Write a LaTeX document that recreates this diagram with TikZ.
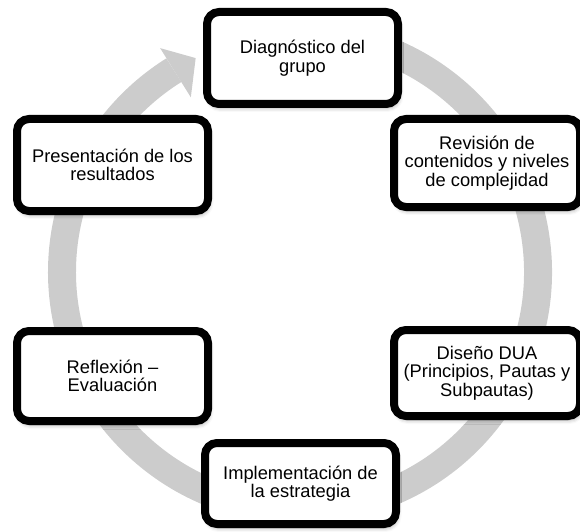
\documentclass[tikz,border=0pt]{standalone}
\usepackage{fontspec}
\setmainfont{Liberation Sans}
\usetikzlibrary{calc,shadows.blur}
\definecolor{ringgray}{RGB}{204,204,204}
\tikzset{
  stagebox/.style={draw=black, line width=8pt, fill=white, rounded corners=12pt,
    align=center, inner sep=2pt,
    font=\fontsize{18.3}{18.6}\selectfont,
    blur shadow={shadow xshift=1.5pt, shadow yshift=-4pt, shadow blur radius=4pt, shadow opacity=35}},
  ring/.style={line width=28pt, draw=ringgray, line cap=butt}
}
\begin{document}
\begin{tikzpicture}[x=1pt,y=1pt]
\useasboundingbox (0,0) rectangle (580,531);
\coordinate (C) at (300,259);
% ring with arrow
\draw[ring] ($(C)+(100:238)$) arc[start angle=100, end angle=-238, radius=238];
\fill[ringgray] ($(C)+(122:206)$) -- ($(C)+(116:238)$) -- ($(C)+(122:264)$) -- cycle;
% boxes
\node[stagebox, minimum width=191pt, minimum height=92pt] (diag) at (302.5,473) {Diagnóstico del\\grupo};
\node[stagebox, minimum width=186pt, minimum height=88pt] (rev) at (487,368) {Revisión de\\contenidos y niveles\\de complejidad};
\node[stagebox, minimum width=186pt, minimum height=86pt] (dis) at (487,158) {Diseño DUA\\(Principios, Pautas y\\Subpautas)};
\node[stagebox, minimum width=191pt, minimum height=81pt] (imp) at (300.5,47.5) {Implementación de\\la estrategia};
\node[stagebox, minimum width=191pt, minimum height=90pt] (ref) at (112.5,155) {Reflexión –\\Evaluación};
\node[stagebox, minimum width=191pt, minimum height=92pt] (pres) at (112.5,366) {Presentación de los\\resultados};
\end{tikzpicture}
\end{document}
